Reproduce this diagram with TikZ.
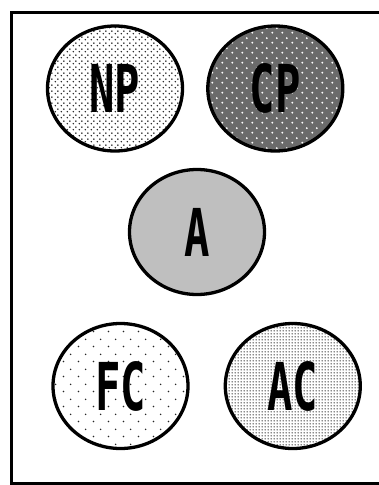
\documentclass[tikz,border=0pt]{standalone}
\usepackage{fontspec}
\setmonofont{DejaVu Sans Mono}
\usepackage{tikz}
\usetikzlibrary{shapes.geometric, patterns, positioning}

% dot screens for the fills
\pgfdeclarepatternformonly{densedots}{\pgfpointorigin}{\pgfpoint{6pt}{6pt}}{\pgfpoint{6pt}{6pt}}{
  \pgfpathcircle{\pgfpoint{1.5pt}{1.5pt}}{0.9pt}
  \pgfpathcircle{\pgfpoint{4.5pt}{4.5pt}}{0.9pt}
  \pgfusepath{fill}}
\pgfdeclarepatternformonly{lightdots}{\pgfpointorigin}{\pgfpoint{10pt}{10pt}}{\pgfpoint{10pt}{10pt}}{
  \pgfpathcircle{\pgfpoint{2.5pt}{2.5pt}}{1.1pt}
  \pgfpathcircle{\pgfpoint{7.5pt}{7.5pt}}{1.1pt}
  \pgfusepath{fill}}
\pgfdeclarepatternformonly{sparsedots}{\pgfpointorigin}{\pgfpoint{15pt}{15pt}}{\pgfpoint{15pt}{15pt}}{
  \pgfpathcircle{\pgfpoint{3.75pt}{3.75pt}}{0.9pt}
  \pgfpathcircle{\pgfpoint{11.25pt}{11.25pt}}{0.9pt}
  \pgfusepath{fill}}
\pgfdeclarepatternformonly{finedots}{\pgfpointorigin}{\pgfpoint{3pt}{3pt}}{\pgfpoint{3pt}{3pt}}{
  \pgfpathcircle{\pgfpoint{1.5pt}{1.5pt}}{0.9pt}
  \pgfusepath{fill}}

\newcommand{\blobtext}[1]{\scalebox{0.64}[1]{\fontsize{66}{66}\selectfont\ttfamily\bfseries #1}}

\begin{document}
\begin{tikzpicture}[
    x=1pt, y=-1pt,
    blob/.style={ellipse, draw, line width=3.3pt, inner sep=0pt, minimum width=135pt, minimum height=125pt},
    npfill/.style={blob, pattern=densedots, pattern color=black!90},
    cpfill/.style={blob, preaction={fill=black!58}, pattern=lightdots, pattern color=white},
    afill/.style={blob, fill=black!25},
    fcfill/.style={blob, pattern=sparsedots, pattern color=black!85},
    acfill/.style={blob, preaction={fill=white}, pattern=finedots, pattern color=black!90}
]
\useasboundingbox (0,0) rectangle (378,485);

% outer frame, runs off the right side
\draw [line width=3pt] (11.5,12) rectangle (390,483.5);

% top row
\node [npfill] (np) at (115,88.5) {\blobtext{NP}};
\node [cpfill, right=22pt of np] (cp) {\blobtext{CP}};

% middle
\node [afill] (a) at (197,232) {\blobtext{A}};

% bottom row
\node [fcfill] (fc) at (120.5,386) {\blobtext{FC}};
\node [acfill, right=34pt of fc] (ac) {\blobtext{AC}};

\end{tikzpicture}
\end{document}
